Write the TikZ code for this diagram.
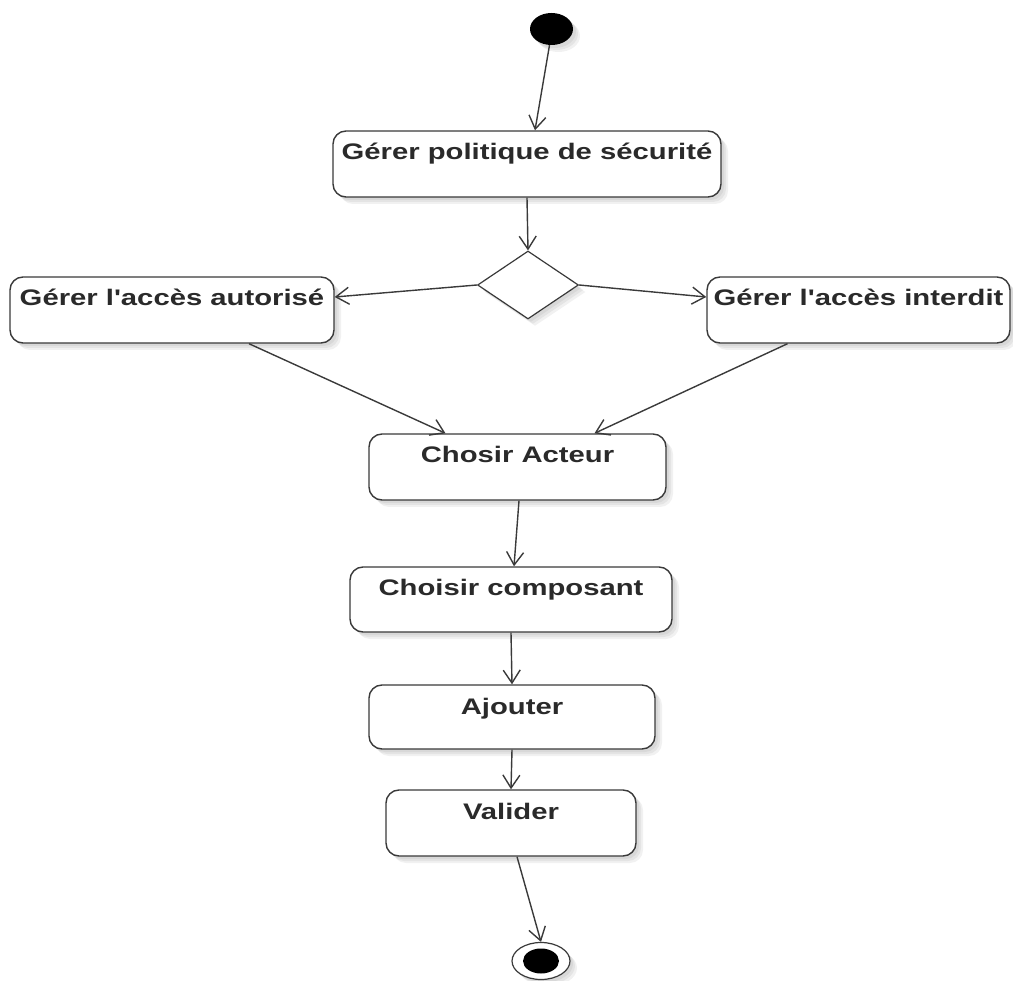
\documentclass[tikz,border=0pt]{standalone}
\usepackage{fontspec}
\newfontfamily\diagfont{Liberation Sans}
\usepackage{graphicx}
\usetikzlibrary{shapes.geometric,arrows.meta,shadows}

\definecolor{linegray}{HTML}{3A3A3A}
\definecolor{textgray}{HTML}{2A2A2A}

\tikzset{
  soft shadow/.style={
    general shadow={fill=black!70, opacity=0.08, shadow xshift=3pt, shadow yshift=-3pt},
    general shadow={fill=black!70, opacity=0.08, shadow xshift=5pt, shadow yshift=-5pt},
    general shadow={fill=black!70, opacity=0.08, shadow xshift=7pt, shadow yshift=-7pt}},
  activity/.style={draw=linegray, line width=1.4pt, fill=white, rounded corners=13pt,
    inner sep=0pt, text height=29pt, text depth=37pt, soft shadow,
    font=\diagfont\fontsize{22.5}{26}\selectfont\bfseries, text=textgray},
  decision/.style={diamond, draw=linegray, line width=1.2pt, fill=white, inner sep=0pt,
    minimum width=101pt, minimum height=68pt, soft shadow},
  initial/.style={ellipse, fill=black, inner sep=0pt, minimum width=43pt,
    minimum height=32pt, soft shadow},
  finalring/.style={ellipse, draw=linegray, line width=1.2pt, fill=white, inner sep=0pt,
    minimum width=58pt, minimum height=37pt, soft shadow},
  finaldot/.style={ellipse, fill=black, inner sep=0pt, minimum width=36pt, minimum height=25pt},
  flow/.style={draw=linegray, line width=1.4pt,
    -{Straight Barb[length=13pt,width=17pt,line width=1.4pt]}},
}

\newcommand{\wide}[1]{\scalebox{1.3}[1]{#1}}

\begin{document}
\begin{tikzpicture}[x=1pt, y=-1pt]
  \useasboundingbox (0,0) rectangle (1013,981);

  % states and actions
  \node[initial] (start) at (551.5,29) {};
  \node[activity, minimum width=388pt] (pol) at (527,164) {\wide{Gérer politique de sécurité}};
  \node[decision] (dec) at (528,285) {};
  \node[activity, minimum width=324pt] (aut) at (172,310) {\wide{Gérer l'accès autorisé}};
  \node[activity, minimum width=303pt] (int) at (858.5,310) {\wide{Gérer l'accès interdit}};
  \node[activity, minimum width=297pt] (act) at (517.5,467) {\wide{Chosir Acteur}};
  \node[activity, minimum width=322pt, text depth=36pt] (comp) at (511,599.5) {\wide{Choisir composant}};
  \node[activity, minimum width=286pt, text depth=35pt] (ajo) at (512,717) {\wide{Ajouter}};
  \node[activity, minimum width=250pt] (val) at (511,823) {\wide{Valider}};
  \node[finalring] (stop) at (541,961) {};
  \node[finaldot] (stopdot) at (stop.center) {};

  % control flows
  \draw[flow] ([xshift=-2pt]start.south) -- ([xshift=8pt]pol.north);
  \draw[flow] (pol.south) -- (dec.north);
  \draw[flow] (dec.west) -- ([yshift=13pt]aut.east);
  \draw[flow] (dec.east) -- ([yshift=13pt]int.west);
  \draw[flow] ([xshift=77pt]aut.south) -- ([xshift=-72pt]act.north);
  \draw[flow] ([xshift=-71pt]int.south) -- ([xshift=77pt]act.north);
  \draw[flow] ([xshift=1.5pt]act.south) -- ([xshift=3pt]comp.north);
  \draw[flow] (comp.south) -- (ajo.north);
  \draw[flow] (ajo.south) -- (val.north);
  \draw[flow] ([xshift=6pt]val.south) -- (stop.north);
\end{tikzpicture}
\end{document}
